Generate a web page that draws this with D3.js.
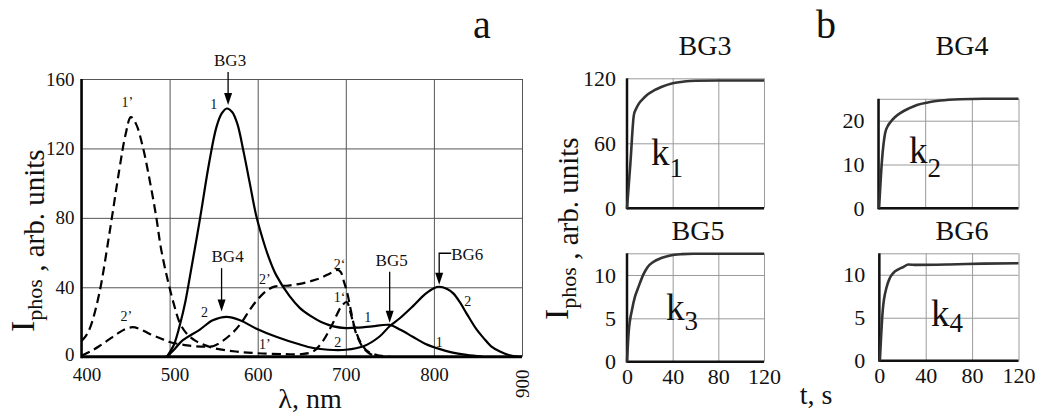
<!DOCTYPE html>
<html><head><meta charset="utf-8">
<script src="https://cdn.jsdelivr.net/npm/d3@7"></script>
<style>
body{margin:0;background:#fff}
</style>
</head><body>
<svg id="c" width="1039" height="415" xmlns="http://www.w3.org/2000/svg"></svg>
<script>
// ---------- data: panel a (photoluminescence spectra) ----------
const lambdaTicks = [400, 500, 600, 700, 800, 900];
const intensityTicks = [0, 40, 80, 120, 160];
// curve 1 (solid)
const curve1 = [[497,0],[505,7],[512,19],[518,32],[523,46],[534,78],[545,112],[553,132],[559,140],[565,143],[571,141],[577,134],[584,118],[591,100],[598,82],[605,69],[612,58],[621,47],[636,35],[648,28],[660,23.5],[672,20],[686,17.5],[700,16.5],[715,16.8],[730,17.5],[750,18.3],[762,15.5],[776,11.5],[790,7.5],[806,4.5],[820,2.5],[837,1],[855,0]];
// curve 2 (solid)
const curve2 = [[497,0],[505,4],[515,9.5],[534,15.5],[549,21],[565,23],[580,21],[598,16.3],[621,11.5],[648,7],[663,5],[680,4],[700,4],[720,6],[738,11.5],[750,17.7],[761,22],[776,29],[790,36],[800,39.5],[806,40.3],[815,39],[822,36.5],[830,31],[837,25],[848,16],[856,11],[865,6],[875,3],[885,1],[895,0],[900,0]];
// curve 1' (dashed)
const curve1p = [[400,9],[405,12],[410,17],[420,36],[432,72],[443,108],[450,128],[456,138],[462,134],[470,120],[478,100],[485,80],[490,63],[497,46],[505,30],[512,19],[520,13],[530,9],[550,5],[575,3],[600,2],[630,1.5],[650,1.5],[663,3],[674,9],[685,19],[695,29],[701,31.5],[705,26],[712,13],[720,5],[730,1],[740,0]];
// curve 2' (dashed)
const curve2p = [[400,0.5],[410,3],[420,6],[430,9.5],[440,13],[450,16],[458,17],[466,16],[478,13],[490,10.5],[500,8.5],[520,6.5],[540,5.8],[550,6.2],[560,9],[572,14],[582,20],[591,27],[600,33],[610,38],[620,40.5],[635,41],[648,42],[660,43.5],[670,45],[682,48],[690,50],[694,49],[698,43],[702,36],[706,26],[710,17],[717,8],[725,3],[735,1],[750,0]];
// curve number labels [lambda, value, text]
const curveLabels = [[452,144,"1’"],[550,142.7,"1"],[451,20.6,"2’"],[539.5,22.9,"2"],[608,41.9,"2’"],[608,4.4,"1’"],[693,50.5,"2‘"],[693,31.5,"1‘"],[725,20,"1"],[691,5.6,"2"],[838.5,29.2,"2"],[806,5.6,"1"]];
// compound peak annotations
const bgNames = ["BG3","BG4","BG5","BG6"];
const bgArrowLambda = [566.4, 559, 749.8, 806];
const bgArrowFrom = [164, 51, 49, 59.6];
const bgArrowTo = [145, 26, 19.5, 41.5];

// ---------- data: panel b (kinetics) ----------
const timeTicks = [0, 40, 80, 120];
const bg3T = [0,3,6,8,10,14,18,24,30,40,50,60,80,100,120];
const bg3V = [0,42,86,92,96,101,105,109,112,115.5,117,117.7,118,118,118];
const bg4T = [0.5,3,5.7,8,10,14,19,26,33,43,53,70,90,120];
const bg4V = [0,11,17.2,18.8,19.6,20.8,21.8,22.8,23.6,24.2,24.6,24.9,25,25];
const bg5T = [0,1.4,4.4,7,10,14.5,18,23,30,38,48,58,80,120];
const bg5V = [0,3.3,6,7.5,8.6,10.1,10.9,11.5,11.95,12.25,12.4,12.45,12.45,12.45];
const bg6T = [0.5,3,6.4,9,12,16,20.6,25,32,60,90,120];
const bg6V = [0,5.9,8.6,9.6,10.2,10.6,10.9,11.2,11.15,11.2,11.3,11.35];
const bg3Ticks = [0, 60, 120];
const bg4Ticks = [0, 10, 20];
const bg5Ticks = [0, 5, 10];
const bg6Ticks = [0, 5, 10];

const FONT = '"Liberation Serif", "Times New Roman", Times, serif';
const svg = d3.select("#c").attr("font-family", FONT);
svg.append("rect").attr("width",1039).attr("height",415).attr("fill","#fff");

// ================= PANEL A =================
const x = d3.scaleLinear().domain([400, 900]).range([81.5, 522]);
const y = d3.scaleLinear().domain([0, 160]).range([356.7, 79]);

const gx = svg.append("g").attr("transform", `translate(0,${y(0)})`)
  .call(d3.axisBottom(x).tickValues(lambdaTicks).tickSize(-(y(0)-y(160))).tickPadding(11).tickFormat(d3.format("d")));
gx.attr("font-family", FONT);
gx.select(".domain").remove();
gx.selectAll(".tick line").attr("stroke","#555").attr("stroke-width",1);
gx.selectAll(".tick text").attr("font-size",19).attr("fill","#111");
gx.selectAll(".tick").filter(d => d === 400 || d === 500).select("text").attr("x", 5);
gx.selectAll(".tick").filter(d => d === 900).select("text")
  .attr("transform","translate(0,27) rotate(-90)").attr("text-anchor","middle").attr("dy","0.35em").attr("y",0);

const gy = svg.append("g").attr("transform", `translate(${x(400)},0)`)
  .call(d3.axisLeft(y).tickValues(intensityTicks).tickSize(-(x(900)-x(400))).tickPadding(7));
gy.attr("font-family", FONT);
gy.select(".domain").remove();
gy.selectAll(".tick line").attr("stroke","#555").attr("stroke-width",1);
gy.selectAll(".tick text").attr("font-size",19).attr("fill","#111");
gy.selectAll(".tick").filter(d => d === 0).select("text").attr("dy","0.2em");

svg.append("line").attr("x1",x(400)).attr("x2",x(400)).attr("y1",y(160)).attr("y2",y(0)+1.5).attr("stroke","#000").attr("stroke-width",2.5);
svg.append("line").attr("x1",x(400)).attr("x2",x(900)).attr("y1",y(0)).attr("y2",y(0)).attr("stroke","#000").attr("stroke-width",3);

const line = d3.line().x(d => x(d[0])).y(d => y(d[1])).curve(d3.curveCatmullRom.alpha(0.5));
const series = [
  {data: curve1, dash: null},
  {data: curve2, dash: null},
  {data: curve1p, dash: "9,5"},
  {data: curve2p, dash: "9,5"}
];
svg.append("g").selectAll("path").data(series).join("path")
  .attr("d", d => line(d.data)).attr("fill","none").attr("stroke","#000")
  .attr("stroke-width",2.2).attr("stroke-dasharray", d => d.dash);

svg.append("g").selectAll("text").data(curveLabels).join("text")
  .attr("x", d => x(d[0])).attr("y", d => y(d[1])).attr("text-anchor","middle")
  .attr("font-size",14).attr("fill","#111").text(d => d[2]);

const ann = svg.append("g");
bgNames.forEach((name, i) => {
  const ax = x(bgArrowLambda[i]);
  const y0 = y(bgArrowFrom[i]), y1 = y(bgArrowTo[i]);
  if (name === "BG6") {
    const tx = ax + 12;
    ann.append("path").attr("d", `M${tx},${y0}H${ax}V${y1-9}`).attr("fill","none").attr("stroke","#000").attr("stroke-width",1.3);
    ann.append("text").attr("x", tx).attr("y", y0+6.5).attr("font-size",17).attr("fill","#111").text(name);
  } else {
    ann.append("line").attr("x1",ax).attr("x2",ax).attr("y1",y0).attr("y2",y1-9).attr("stroke","#000").attr("stroke-width",1.3);
    ann.append("text").attr("x", ax + (name==="BG4"?6:2)).attr("y", y0 - 6).attr("text-anchor","middle").attr("font-size",17).attr("fill","#111").text(name);
  }
  ann.append("path").attr("d", `M${ax-4},${y1-12}L${ax+4},${y1-12}L${ax},${y1}Z`).attr("fill","#000");
});

svg.append("text").attr("x", 310).attr("y", 408).attr("text-anchor","middle").attr("font-size",28).attr("fill","#111").text("λ, nm");

function yTitle(bx, by) {
  const t = svg.append("text").attr("transform", `translate(${bx},${by}) rotate(-90)`).attr("text-anchor","start").attr("fill","#111");
  t.append("tspan").attr("font-size",34).text("I");
  t.append("tspan").attr("font-size",22).attr("dy",8).text("phos");
  t.append("tspan").attr("font-size",29).attr("dy",2).text(" , arb. units");
}
yTitle(34, 332);

svg.append("text").attr("x", 482).attr("y", 38).attr("text-anchor","middle").attr("font-size",40).attr("fill","#111").text("a");
svg.append("text").attr("x", 826).attr("y", 38).attr("text-anchor","middle").attr("font-size",40).attr("fill","#111").text("b");

// ================= PANEL B =================
const panels = [
  {name:"BG3", t:bg3T, v:bg3V, ticks:bg3Ticks, max:120, xr:[627,764], yr:[208.3,78.3], title:[705,55], k:"1", kpos:[651,165,12], xlab:false},
  {name:"BG4", t:bg4T, v:bg4V, ticks:bg4Ticks, max:25, xr:[878.5,1018.5], yr:[208.3,98.8], title:[962,55], k:"2", kpos:[909,163,14], xlab:false},
  {name:"BG5", t:bg5T, v:bg5V, ticks:bg5Ticks, max:12.5, xr:[627,764], yr:[361.7,253.3], title:[698,240], k:"3", kpos:[666,320,10], xlab:true},
  {name:"BG6", t:bg6T, v:bg6V, ticks:bg6Ticks, max:12.5, xr:[879.3,1018.5], yr:[360.7,253.3], title:[962,240], k:"4", kpos:[931,326,6], xlab:true}
];

panels.forEach(p => {
  const px = d3.scaleLinear().domain([0,120]).range(p.xr);
  const py = d3.scaleLinear().domain([0,p.max]).range(p.yr);
  const g = svg.append("g");
  const ax = g.append("g").attr("transform",`translate(0,${py(0)})`)
    .call(d3.axisBottom(px).tickValues(timeTicks).tickSize(-(py(0)-py(p.max))).tickPadding(7));
  ax.attr("font-family", FONT);
  ax.select(".domain").remove();
  ax.selectAll(".tick line").attr("stroke","#9a9a9a").attr("stroke-width",1);
  ax.selectAll(".tick text").attr("font-size",22).attr("fill","#111");
  if (!p.xlab) ax.selectAll(".tick text").remove();
  const yTicks = p.ticks.concat(p.max === p.ticks[p.ticks.length-1] ? [] : [p.max]);
  const ay = g.append("g").attr("transform",`translate(${px(0)},0)`)
    .call(d3.axisLeft(py).tickValues(yTicks).tickSize(-(px(120)-px(0))).tickPadding(p.name==="BG4"||p.name==="BG6"?14:11));
  ay.attr("font-family", FONT);
  ay.select(".domain").remove();
  ay.selectAll(".tick line").attr("stroke","#9a9a9a").attr("stroke-width",1);
  ay.selectAll(".tick text").attr("font-size",22).attr("fill","#111");
  ay.selectAll(".tick").filter(d => !p.ticks.includes(d)).select("text").remove();
  g.append("line").attr("x1",px(0)).attr("x2",px(0)).attr("y1",py(p.max)).attr("y2",py(0)+1).attr("stroke","#111").attr("stroke-width",2.5);
  g.append("line").attr("x1",px(0)).attr("x2",px(120)).attr("y1",py(0)).attr("y2",py(0)).attr("stroke","#111").attr("stroke-width",2.5);
  const data = p.t.map((t,i)=>[t,p.v[i]]);
  g.append("path").attr("d", d3.line().x(d=>px(d[0])).y(d=>py(d[1])).curve(d3.curveMonotoneX)(data))
    .attr("fill","none").attr("stroke","#333").attr("stroke-width",2.6);
  g.append("text").attr("x",p.title[0]).attr("y",p.title[1]).attr("text-anchor","middle").attr("font-size",28).attr("fill","#111").text(p.name);
  const kt = g.append("text").attr("x",p.kpos[0]).attr("y",p.kpos[1]).attr("font-size",37).attr("fill","#111");
  kt.append("tspan").text("k");
  kt.append("tspan").attr("font-size",27).attr("dy",p.kpos[2]).text(p.k);
});

yTitle(568, 320);
svg.append("text").attr("x", 816).attr("y", 404).attr("text-anchor","middle").attr("font-size",28).attr("fill","#111").text("t, s");

svg.selectAll("text").style("font-family", FONT);
</script>
</body></html>
